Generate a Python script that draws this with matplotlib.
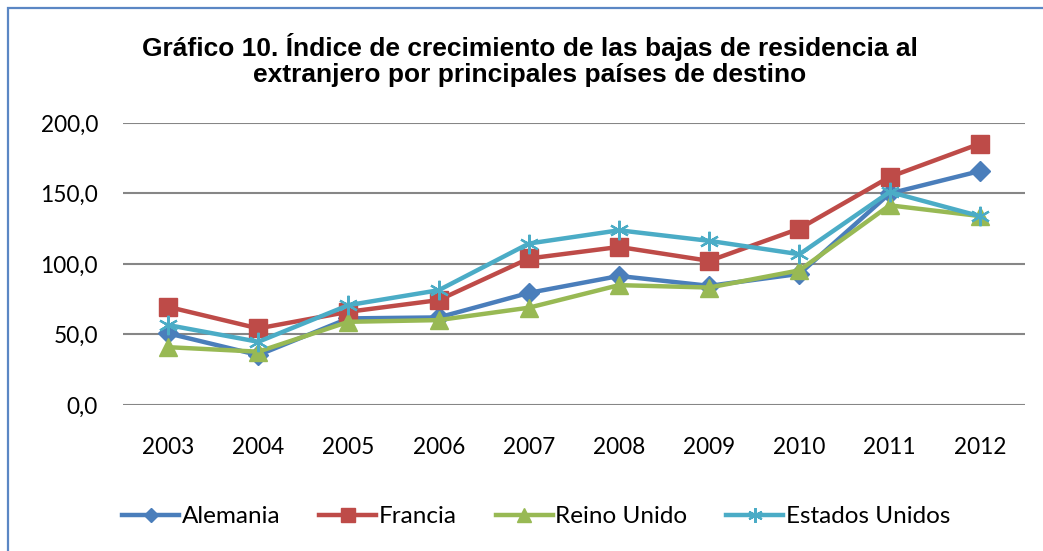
import matplotlib.pyplot as plt
from matplotlib.patches import Rectangle

years = ['2003', '2004', '2005', '2006', '2007', '2008', '2009', '2010', '2011', '2012']
alemania = [50.8, 35.4, 61.4, 62.1, 79.5, 91.5, 84.5, 93.0, 150.0, 165.9]
francia = [69.6, 54.3, 66.1, 74.4, 103.9, 112.1, 102.2, 125.1, 161.7, 185.3]
reino_unido = [41.0, 37.8, 59.0, 60.2, 69.0, 85.0, 83.3, 95.5, 141.6, 134.0]
estados_unidos = [56.7, 44.8, 70.8, 81.4, 114.5, 123.9, 116.4, 106.9, 151.1, 133.9]
yticks = [0, 50, 100, 150, 200]

fig = plt.figure(figsize=(10.43, 5.51), dpi=100)
ax = fig.add_axes([0.1179, 0.2650, 0.8648, 0.5118])

x = range(len(years))
lw = 3.2
ax.plot(x, alemania, color='#4A7EBB', lw=lw, marker='D', ms=10, label='Alemania')
ax.plot(x, francia, color='#BE4B48', lw=lw, marker='s', ms=13, label='Francia')
ax.plot(x, reino_unido, color='#98B954', lw=lw, marker='^', ms=13, label='Reino Unido')
ax.plot(x, estados_unidos, color='#4BACC6', lw=lw, marker=(6, 2, 0), ms=14,
        mew=1.6, label='Estados Unidos')

ax.set_xlim(-0.5, 9.5)
ax.set_ylim(0, 200)
ax.set_yticks(yticks)
ax.set_yticklabels([f'{v:.1f}'.replace('.', ',') for v in yticks])
ax.set_xticks(list(x))
ax.set_xticklabels(years)
ax.grid(axis='y', color='#868686', lw=1.5)
ax.set_axisbelow(True)
for s in ax.spines.values():
    s.set_visible(False)
ax.tick_params(length=0, labelsize=16.3)
ax.tick_params(axis='x', pad=23)
ax.tick_params(axis='y', pad=18)
for t in ax.get_xticklabels() + ax.get_yticklabels():
    t.set_fontfamily('Lato')

fig.text(0.508, 0.891, 'Gráfico 10. Índice de crecimiento de las bajas de residencia al\n'
         'extranjero por principales países de destino',
         ha='center', va='center', fontsize=19, fontweight='bold',
         family='Liberation Sans', linespacing=1.12)

fig.legend(loc='center', bbox_to_anchor=(0.514, 0.062), ncol=4, frameon=False,
           prop={'family': 'Lato', 'size': 17.5}, handlelength=2.35, handletextpad=0.1,
           columnspacing=1.6, markerscale=0.75, borderpad=0, borderaxespad=0)

fig.patches.append(Rectangle((8 / 1043, -0.1), 1.2, 1 - 8 / 551 + 0.1,
                             transform=fig.transFigure, fill=False,
                             edgecolor='#5B87C4', lw=1.6))

plt.savefig('out.png', dpi=100)
